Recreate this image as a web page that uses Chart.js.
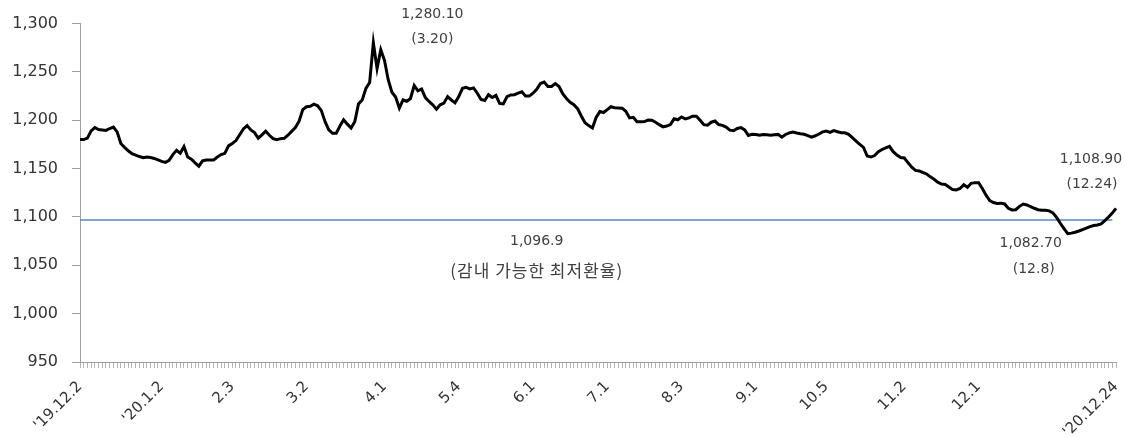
<!DOCTYPE html>
<html>
<head>
<meta charset="utf-8">
<script src="https://cdn.jsdelivr.net/npm/chart.js@4"></script>
<style>
  html, body { margin: 0; padding: 0; background: #fff; }
</style>
</head>
<body>
<canvas id="myChart" width="1125" height="438"></canvas>
<script>
const ctx = document.querySelector("#myChart").getContext("2d");

// daily won/dollar rate, '19.12.2 ~ '20.12.24
const rate = [
  1180, 1180, 1181.5, 1189, 1192.5, 1190.5, 1190, 1189.5, 1191.5, 1193,
  1188, 1176, 1172, 1168.5, 1165.5, 1164, 1162.5, 1161.3, 1162, 1161.5,
  1160.5, 1159, 1157.5, 1156.5, 1158.5, 1164.5, 1169, 1166, 1172.7, 1162,
  1159.7, 1156, 1152.5, 1158, 1159, 1159, 1159, 1162, 1164.5, 1165.8,
  1173.5, 1176, 1179, 1185, 1191, 1194.5, 1190, 1187.2, 1181.5, 1185,
  1188.8, 1184.5, 1181, 1180, 1181, 1181.3, 1184.5, 1188.5, 1192.5, 1199,
  1211, 1214, 1214.5, 1216.7, 1215, 1210, 1198.5, 1190, 1186.5, 1186.5,
  1194, 1200.5, 1196, 1192, 1198.5, 1217, 1221, 1233, 1239, 1280.1,
  1253.4, 1272.9, 1262, 1242, 1229, 1224, 1212.5, 1221, 1219.7, 1222.5,
  1236, 1230.5, 1232.4, 1223.5, 1219.5, 1216, 1211.5, 1216, 1217.7, 1224.5,
  1221, 1218, 1224.5, 1233, 1234, 1232.5, 1233.5, 1228, 1221.5, 1220.5,
  1226.4, 1223.5, 1225.8, 1217.5, 1216.9, 1224.5, 1226.2, 1226.5, 1228, 1229.5,
  1225, 1225, 1228, 1232, 1238, 1239.5, 1235, 1235, 1238, 1235,
  1227.5, 1222.5, 1218.5, 1216.2, 1212, 1204.5, 1197.4, 1194.5, 1192, 1203,
  1209, 1208, 1211, 1214, 1213, 1212.8, 1212.5, 1209.3, 1202.5, 1203,
  1198.4, 1198.4, 1198.6, 1200.2, 1200, 1198, 1195.5, 1193.2, 1194, 1195.5,
  1201.5, 1200.5, 1203.5, 1201.5, 1202.5, 1204.3, 1204.3, 1200, 1195.5, 1195,
  1198, 1199.2, 1195.6, 1194.8, 1193, 1189.8, 1189.2, 1191.5, 1192.5, 1190,
  1184.4, 1185.6, 1185.2, 1184.5, 1185.2, 1185, 1184.5, 1185, 1185.4, 1182.6,
  1185.3, 1187, 1187.8, 1186.8, 1186, 1185.5, 1184.2, 1182.6, 1184, 1185.8,
  1188, 1188.8, 1187.5, 1189.3, 1188.2, 1187.1, 1187.1, 1185.5, 1182, 1178.5,
  1175, 1172, 1163, 1162, 1163.5, 1167.5, 1169.8, 1171.5, 1173, 1167.5,
  1164, 1161.5, 1161, 1156, 1151.5, 1148.2, 1147.6, 1146, 1144.5, 1141.5,
  1139, 1136, 1134, 1133.6, 1131, 1128.3, 1128, 1129.5, 1133.3, 1130.8,
  1134.8, 1135.5, 1135.4, 1129.5, 1122.5, 1117, 1115, 1114, 1114.3, 1113.5,
  1109, 1107.3, 1107.5, 1111, 1113.4, 1112.4, 1110.8, 1109, 1107.5, 1107,
  1107, 1106.3, 1104.3, 1099.6, 1093.5, 1088, 1082.7, 1083.3, 1084.2, 1085.5,
  1087, 1088.5, 1090, 1091.1, 1091.7, 1092.8, 1096.2, 1100, 1104, 1108.9,
];

// which rows get a date label on the x axis
const tickPos = [0, 22, 41, 61, 82, 102, 122, 142, 162, 182, 201, 222, 242, 279];
const tickText = ["'19.12.2", "'20.1.2", "2.3", "3.2", "4.1", "5.4", "6.1", "7.1", "8.3", "9.1", "10.5", "11.2", "12.1", "'20.12.24"];

const yTicks = [950, 1000, 1050, 1100, 1150, 1200, 1250, 1300];

const floorRate = 1096.9;
const floorText = ["1,096.9", "(감내 가능한 최저환율)"];
const floorTextAt = 123;

// called-out points: [row, first line, second line]
const callouts = [
  [79, "1,280.10", "(3.20)"],
  [266, "1,082.70", "(12.8)"],
  [279, "1,108.90", "(12.24)"],
];

const labels = rate.map((v, i) => {
  const k = tickPos.indexOf(i);
  return k >= 0 ? tickText[k] : "";
});

const FONT = "'DejaVu Sans', 'Noto Sans CJK KR', sans-serif";

const notes = {
  id: "notes",
  beforeDatasetsDraw(chart) {
    const { ctx, chartArea, scales: { x, y } } = chart;
    const fy = y.getPixelForValue(floorRate);
    ctx.save();
    ctx.strokeStyle = "#5a85bf";
    ctx.lineWidth = 1.5;
    ctx.beginPath();
    ctx.moveTo(chartArea.left, fy);
    ctx.lineTo(x.getPixelForValue(rate.length - 2), fy);
    ctx.stroke();
    ctx.restore();
  },
  afterDatasetsDraw(chart) {
    const { ctx, scales: { x, y } } = chart;
    ctx.save();
    ctx.fillStyle = "#404040";
    ctx.textAlign = "center";
    ctx.textBaseline = "middle";
    ctx.font = "14px " + FONT;

    const fy = y.getPixelForValue(floorRate);
    const fx = x.getPixelForValue(floorTextAt);
    ctx.fillText(floorText[0], fx, fy + 21);
    ctx.font = "17px 'Noto Sans CJK KR', sans-serif";
    ctx.letterSpacing = "1px";
    ctx.fillText(floorText[1], fx, fy + 51);
    ctx.letterSpacing = "0px";
    ctx.font = "14px " + FONT;

    // offsets of each call-out text from its point
    const off = { 79: [59, -28, 59, -3], 266: [-37, 10, -34, 36], 279: [-25, -49, -24, -24] };
    callouts.forEach(([i, a, b]) => {
      const px = x.getPixelForValue(i);
      const py = y.getPixelForValue(rate[i]);
      const o = off[i];
      ctx.fillText(a, px + o[0], py + o[1]);
      ctx.fillText(b, px + o[2], py + o[3]);
    });
    ctx.restore();
  },
};

const data = {
  labels,
  datasets: [
    {
      data: rate,
      borderColor: "#000",
      borderWidth: 3,
      pointRadius: 0,
      tension: 0,
      fill: false,
    },
  ],
};

const config = {
  type: "line",
  data: data,
  plugins: [notes],
  options: {
    responsive: false,
    animation: false,
    layout: { padding: { top: 22, right: 9, bottom: 0, left: 0 } },
    plugins: {
      legend: { display: false },
      tooltip: { enabled: false },
    },
    scales: {
      x: {
        afterFit: (s) => { s.height = 76; s.paddingRight = 0; s.paddingLeft = 0; },
        grid: { drawOnChartArea: false, tickLength: 6, color: "#b5b5b5" },
        border: { color: "#a0a0a0" },
        ticks: {
          autoSkip: false,
          minRotation: 45,
          maxRotation: 45,
          padding: 10,
          color: "#333",
          font: { family: FONT, size: 15 },
        },
      },
      y: {
        min: 950,
        max: 1300,
        afterFit: (s) => { s.width = 80; },
        afterBuildTicks: (s) => { s.ticks = yTicks.map((v) => ({ value: v })); },
        grid: { drawOnChartArea: false, tickLength: 8, color: "#a0a0a0" },
        border: { color: "#a0a0a0" },
        ticks: {
          padding: 14,
          color: "#333",
          font: { family: FONT, size: 16 },
          callback: (v) => v.toLocaleString("en-US"),
        },
      },
    },
  },
};

const myChart = new Chart(ctx, config);
</script>
</body>
</html>
